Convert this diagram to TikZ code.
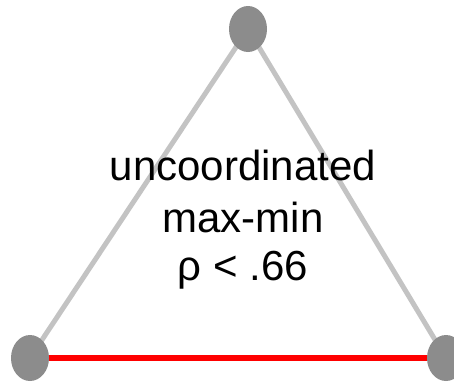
\documentclass[tikz,border=0pt]{standalone}
\usepackage{fontspec}
\setmainfont{Liberation Sans}
\usetikzlibrary{shapes.geometric}
\definecolor{nodegray}{HTML}{8C8C8C}
\definecolor{edgegray}{HTML}{C3C3C3}
\definecolor{edgered}{HTML}{FF0000}
\begin{document}
\begin{tikzpicture}[x=1pt,y=-1pt,
  vert/.style={ellipse,fill=nodegray,draw=none,minimum width=38pt,minimum height=46pt,inner sep=0pt},
  grayedge/.style={draw=edgegray,line width=5pt},
  rededge/.style={draw=edgered,line width=6pt},
  label/.style={anchor=base,inner sep=0pt,font=\fontsize{42}{50}\selectfont}]
\useasboundingbox (0,0) rectangle (454,381);
\coordinate (ct) at (248,29);
\coordinate (cl) at (30,358);
\coordinate (cr) at (446,358);
\draw[grayedge] (ct) -- (cl);
\draw[grayedge] (ct) -- (cr);
\draw[rededge] (cl) -- (cr);
\node[vert] (t) at (ct) {};
\node[vert] (l) at (cl) {};
\node[vert] (r) at (cr) {};
\node[label] (l1) at (243,180) {uncoordinated};
\node[label] (l2) at (243,232) {max-min};
\node[label] (l3) at (243,280) {ρ < .66};
\end{tikzpicture}
\end{document}
